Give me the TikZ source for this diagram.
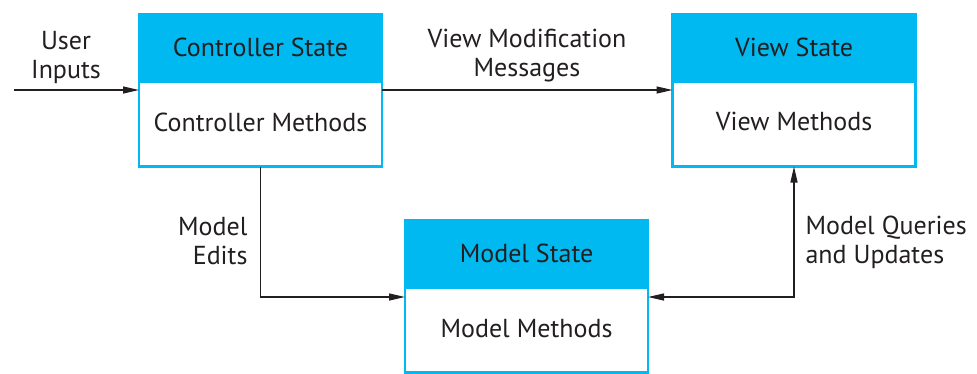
\documentclass[tikz,border=0pt]{standalone}
\usepackage{fontspec}
\setmainfont{PT Sans}
\usetikzlibrary{arrows.meta}
\usetikzlibrary{positioning}
\usepackage{xcolor}
\definecolor{boxcyan}{RGB}{0,185,240}
\definecolor{ink}{RGB}{35,31,32}

\begin{document}
\begin{tikzpicture}[x=1pt, y=-1pt, font=\fontsize{26}{29}\selectfont, text=ink,
 head/.style={draw=boxcyan, fill=boxcyan, line width=2.5pt, minimum width=243pt, minimum height=67pt, inner sep=0, outer sep=0},
 body/.style={draw=boxcyan, fill=white, line width=2.5pt, minimum width=243pt, minimum height=85pt, inner sep=0, outer sep=0},
 link/.style={ink, line width=1.2pt, >={Stealth[length=16pt, width=7pt, inset=0pt]}}]
\useasboundingbox (0,0) rectangle (977,373);
% boxes
\node[head] (cs) at (260.5,48) {\raisebox{2pt}{Controller State}};
\node[body, below=0pt of cs] (cm) {\raisebox{4pt}{Controller Methods}};
\node[head] (vs) at (794,48) {\raisebox{2pt}{View State}};
\node[body, below=0pt of vs] (vm) {\raisebox{6pt}{View Methods}};
\node[head] (ms) at (526.5,254) {\raisebox{2pt}{Model State}};
\node[body, below=0pt of ms] (mm) {\raisebox{4pt}{Model Methods}};
% connectors
\coordinate (usr) at (14,90);
\coordinate (lnk) at (0,297);
\draw[link, ->] (usr) -- (usr -| cm.west);
\draw[link, ->] (usr -| cm.east) -- (usr -| vm.west);
\draw[link, ->] (cm.south) |- (lnk -| mm.west);
\draw[link, <->] (vm.south) |- (lnk -| mm.east);
% labels
\node[align=center] (ui) at (66,57) {User\\Inputs};
\node[align=center] (vmm) at (527,56) {View Modification\\Messages};
\node[align=right, anchor=east] (me) at (251,241) {Model\\Edits};
\node[align=left, anchor=west] (mq) at (802,242) {Model Queries\\and Updates};
\end{tikzpicture}
\end{document}
